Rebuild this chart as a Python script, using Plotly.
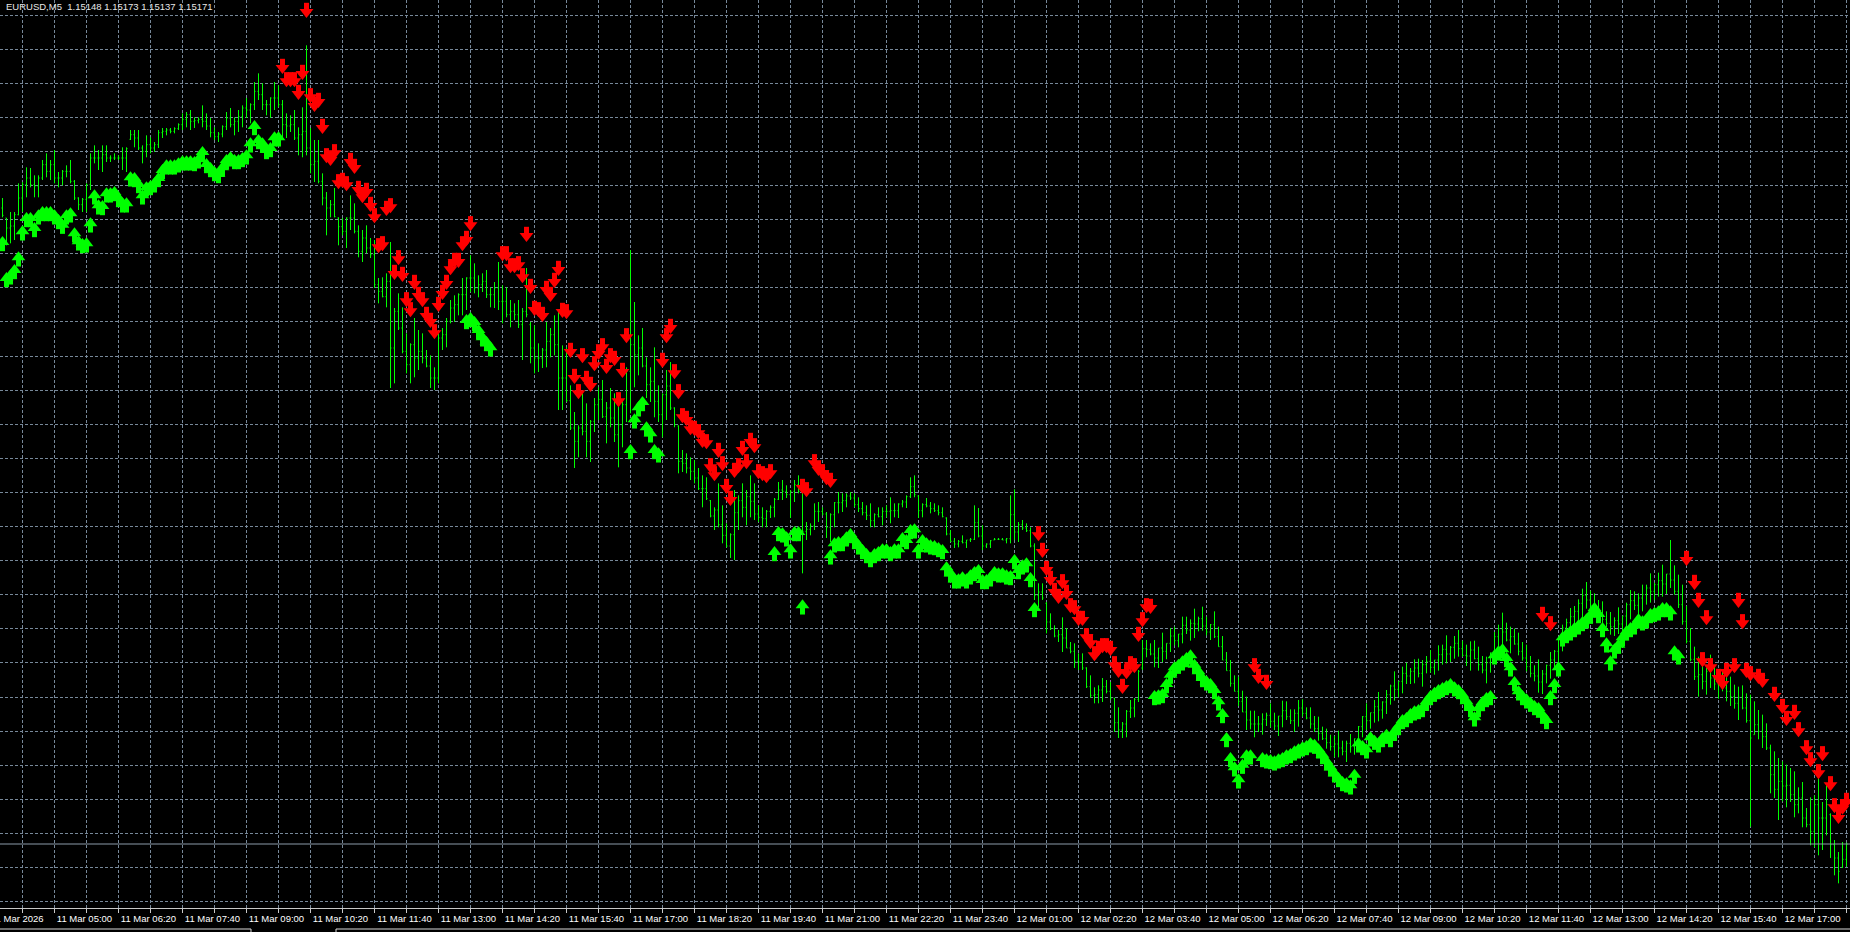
import plotly.graph_objects as go

# ---- price data (points above BASE, 1 point = 0.00001) ----
BASE = 1.15
PT = 0.00001

high_pts = [
1140,1110,1119,1119,1162,1164,1186,1185,1174,1174,1197,1207,1197,1212,1179,1182,1189,1197,1167,1141,
1140,1162,1207,1219,1212,1219,1219,1204,1207,1204,1216,1216,1242,1242,1242,1219,1234,1231,1224,1242,
1245,1245,1245,1246,1252,1267,1269,1272,1261,1261,1279,1267,1260,1246,1239,1249,1269,1275,1261,1272,
1279,1290,1282,1314,1327,1312,1287,1291,1314,1309,1287,1267,1264,1272,1246,1276,1369,1245,1227,1227,
1177,1149,1137,1155,1111,1110,1111,1144,1132,1099,1092,1099,1080,1077,1020,1021,1027,1074,975,997,
976,937,922,960,942,937,912,904,886,937,945,960,987,994,997,1020,1021,1054,1042,1024,
1027,1032,1006,1014,1044,1009,1006,987,982,987,975,1035,954,949,922,915,954,945,964,972,
919,916,859,819,799,847,832,807,840,856,867,834,855,847,829,837,886,1062,984,934,
945,901,886,916,859,847,882,894,826,799,762,757,751,747,735,724,721,687,676,712,
679,652,637,702,694,712,702,724,712,679,676,672,679,690,714,717,709,702,717,724,
709,654,652,682,684,676,669,667,684,699,697,697,699,697,691,684,679,682,667,676,
676,679,691,682,682,687,694,721,724,694,682,690,684,682,679,676,661,642,630,627,
634,627,630,679,675,649,622,627,630,630,630,630,694,703,654,657,652,646,622,562,
562,534,517,499,492,511,495,474,472,457,457,436,424,406,409,420,417,414,390,376,
354,372,387,390,432,477,477,472,477,465,488,472,495,497,486,512,512,508,524,512,
527,512,501,520,497,483,459,447,424,422,401,392,371,371,363,367,368,382,368,363,
386,385,373,373,387,388,376,376,363,362,347,344,335,333,341,326,326,336,329,348,
363,382,368,387,399,385,402,410,430,415,437,443,435,448,449,447,453,462,447,469,
470,484,468,483,492,476,470,475,476,467,453,452,458,489,500,518,503,497,494,488,
474,470,453,439,448,432,440,459,462,478,500,509,525,528,538,554,564,551,547,537,
535,520,519,511,526,513,533,552,550,547,560,560,577,563,578,590,576,627,589,575,
560,528,495,467,452,447,435,455,438,433,432,425,422,410,407,409,397,395,385,372,
365,352,320,310,300,295,290,285,280,256,264,225,241,244,282,234,259,217,177,159,
174,173]

low_pts = [
1111,1069,1072,1077,1114,1119,1141,1156,1141,1141,1167,1171,1167,1162,1156,1159,1171,1162,1137,1122,
1119,1119,1152,1192,1182,1179,1194,1194,1197,1197,1182,1179,1227,1216,1212,1192,1201,1207,1209,1215,
1230,1234,1237,1237,1242,1242,1246,1242,1245,1252,1246,1242,1231,1227,1224,1231,1242,1246,1234,1239,
1246,1260,1252,1272,1287,1272,1264,1260,1272,1276,1231,1230,1239,1227,1204,1201,1204,1177,1164,1162,
1129,1084,1111,1111,1069,1084,1065,1092,1087,1051,1044,1057,1050,1005,982,991,976,855,862,942,
907,877,862,871,882,892,886,855,852,862,912,916,952,954,964,964,972,999,997,991,
999,990,976,975,972,952,961,946,957,945,897,961,892,877,879,885,886,901,904,822,
822,834,792,735,751,784,751,744,789,807,810,772,796,774,736,766,804,817,856,874,
886,840,834,811,804,781,807,822,796,727,729,727,717,712,702,676,687,661,642,646,
622,616,600,597,642,661,649,661,657,654,646,646,660,661,687,687,690,660,684,697,
577,627,634,642,654,664,630,624,646,667,669,676,687,676,669,664,657,646,646,661,
649,661,652,661,660,676,675,690,691,660,661,676,667,669,664,661,634,624,615,616,
622,615,624,627,631,612,615,615,627,627,627,622,622,627,624,642,639,616,537,526,
537,487,492,481,474,459,465,457,435,432,432,405,390,382,382,384,397,387,339,330,
330,331,360,361,384,432,451,454,436,435,444,448,459,469,466,472,486,476,480,490,
491,484,477,480,467,447,431,407,400,378,369,342,343,331,339,335,348,346,342,333,
346,357,351,339,347,362,358,344,339,326,327,314,311,301,301,304,294,308,305,312,
331,342,344,353,355,359,366,380,386,391,397,411,411,412,421,407,427,428,425,431,
440,442,444,449,452,452,438,431,448,431,427,412,428,445,464,470,475,457,470,454,
446,430,421,415,398,396,412,419,432,442,460,481,481,496,502,510,524,523,511,507,
495,496,485,483,486,489,497,508,522,511,520,530,533,537,542,542,546,555,545,525,
500,472,445,417,392,403,395,405,402,389,400,385,378,374,357,373,353,197,335,328,
315,312,247,240,207,235,226,234,211,217,196,196,169,166,154,162,184,150,124,112,
135,137]

open_pts = [
1125,1110,1095,1098,1115,1140,1160,1170,1160,1158,1170,1190,1180,1190,1170,1170,1180,1180,1165,1140,
1130,1138,1160,1200,1200,1200,1205,1200,1200,1200,1200,1200,1228,1235,1230,1215,1210,1220,1215,1220,
1238,1240,1242,1240,1244,1250,1258,1265,1255,1256,1258,1255,1248,1238,1232,1236,1247,1260,1250,1255,
1262,1275,1272,1280,1300,1295,1280,1280,1290,1290,1280,1250,1248,1250,1230,1235,1240,1215,1190,1195,
1165,1140,1125,1130,1110,1097,1090,1110,1110,1090,1060,1080,1065,1055,1010,1000,992,1015,915,970,
945,910,890,920,900,910,900,888,870,870,930,935,955,975,980,995,995,1020,1020,1005,
1010,1015,995,995,1005,985,985,965,970,965,950,970,950,915,900,900,912,925,935,920,
870,870,836,795,775,795,790,775,805,830,838,812,825,810,785,800,830,880,920,905,
915,888,860,865,835,815,845,858,825,798,745,742,735,730,720,704,704,686,663,672,
650,634,618,635,668,686,676,692,685,666,661,659,670,676,688,702,700,695,700,710,
700,640,643,648,670,670,666,646,665,683,683,686,693,690,680,674,668,664,656,665,
662,670,670,671,671,681,684,692,707,693,671,680,678,674,671,668,660,636,625,621,
625,623,627,628,653,633,618,621,627,628,628,627,629,665,639,650,645,641,618,544,
549,532,504,494,483,485,480,465,460,445,444,435,407,394,395,402,407,400,390,353,
342,351,370,375,388,435,464,463,456,450,465,460,472,483,476,486,499,492,502,501,
509,498,489,500,482,467,447,431,412,400,385,369,357,351,351,351,358,364,355,348,
363,371,362,356,367,375,367,360,351,344,337,329,323,317,321,315,310,322,317,329,
347,362,356,368,377,372,384,395,408,403,415,427,423,430,435,427,440,445,436,447,
455,463,456,466,472,464,454,453,462,449,440,432,443,458,482,494,489,477,482,471,
460,450,437,427,423,414,426,439,447,460,478,495,503,512,520,532,544,537,529,522,
515,508,502,497,506,501,513,530,536,529,540,545,555,550,560,566,561,576,567,550,
530,505,475,448,422,425,415,430,420,411,416,405,400,392,382,391,375,356,335,350,
340,332,315,275,253,265,258,259,245,230,240,210,200,190,230,210,210,215,170,150,
136,148]

close_pts = [
1114,1095,1098,1115,1140,1160,1170,1160,1158,1170,1190,1180,1190,1170,1170,1180,1180,1165,1140,1130,
1138,1160,1200,1200,1200,1205,1200,1200,1200,1200,1200,1214,1235,1230,1215,1210,1220,1215,1220,1238,
1240,1242,1240,1244,1250,1258,1265,1255,1256,1258,1255,1248,1238,1232,1236,1247,1260,1250,1255,1262,
1275,1272,1280,1300,1295,1280,1280,1290,1290,1280,1250,1248,1250,1230,1235,1240,1215,1190,1195,1165,
1140,1125,1130,1112,1097,1090,1110,1110,1090,1060,1080,1065,1055,1010,1000,992,1015,915,970,945,
910,890,920,900,910,900,888,870,870,930,935,955,975,980,995,995,1020,1020,1005,1010,
1015,995,995,1005,985,985,965,970,965,950,970,965,915,900,900,912,925,935,920,870,
870,836,795,775,795,790,775,805,830,838,812,825,810,785,800,830,880,920,905,915,
888,860,865,835,815,845,858,825,800,745,742,735,730,720,704,704,689,663,672,650,
634,618,635,668,686,676,692,685,666,661,659,670,676,688,702,700,695,700,710,700,
640,643,648,670,670,666,646,665,683,683,686,693,690,680,674,668,664,656,665,662,
670,670,671,671,681,684,692,707,695,671,680,678,674,671,668,662,636,625,621,625,
623,627,628,653,633,618,621,626,628,628,627,629,665,639,650,645,641,618,544,549,
540,504,494,483,485,480,465,460,445,444,435,407,394,395,402,407,400,390,353,342,
351,370,375,388,430,464,463,456,450,465,460,472,483,476,486,499,492,502,501,509,
498,489,500,482,467,447,431,412,400,385,369,357,351,351,351,358,364,355,348,363,
371,362,356,367,375,367,360,351,344,337,329,323,317,321,315,310,322,317,329,347,
362,356,368,377,372,384,395,408,403,415,427,423,430,435,427,440,445,436,447,455,
463,456,466,472,464,454,453,462,449,440,432,443,458,482,494,489,477,482,471,460,
450,437,427,423,414,426,439,447,460,478,495,503,512,520,532,544,537,529,522,515,
508,502,497,506,501,513,530,536,529,540,545,555,550,560,566,561,576,567,550,530,
505,475,448,422,425,415,430,420,411,416,405,400,392,382,391,375,356,330,350,340,
332,315,275,253,265,258,259,245,230,240,210,200,190,230,210,210,230,170,150,130,
148,171]

# ---- indicator arrows: bar index and price (points) ----
up_idx = [0,1,2,3,4,5,6,7,8,9,10,11,12,13,14,15,16,17,18,19,20,21,22,23,24,25,26,27,28,29,
          30,31,32,33,34,35,36,37,38,39,40,41,42,43,44,45,46,47,48,49,50,51,52,53,54,55,56,57,58,59,
          60,61,62,63,64,65,66,67,68,69,
          116,117,118,119,120,121,122,
          157,158,159,160,161,162,163,164,
          193,194,195,196,197,198,199,200,
          207,208,209,210,211,212,213,214,215,216,217,218,219,220,221,222,223,224,225,226,
          227,228,229,230,231,232,233,234,235,236,237,238,239,240,241,242,243,244,245,246,
          247,248,249,250,251,252,253,254,255,256,257,258,
          288,289,290,291,292,293,294,295,296,297,298,299,300,301,302,303,304,305,306,307,
          308,309,310,311,312,315,316,317,318,319,320,321,322,323,324,325,326,327,328,329,
          330,331,332,333,334,335,336,337,338,339,340,341,342,343,344,345,346,347,348,349,
          350,351,352,353,354,355,356,357,358,359,360,361,362,363,364,365,366,367,368,369,
          370,371,372,373,374,375,376,377,378,379,380,381,382,383,384,385,386,387,388,389,
          390,391,392,393,394,395,396,397,398,399,400,401,402,403,404,405,406,407,408,409,
          410,411,412,413,414,415,416,417,418,419]
up_pts = [1074,1020,1024,1032,1051,1090,1110,1110,1095,1114,1119,1119,1119,1114,1107,1100,1114,1117,1087,1075,
          1071,1072,1102,1144,1129,1128,1147,1147,1149,1140,1132,1132,1171,1170,1161,1144,1156,1158,1162,1170,
          1182,1189,1189,1189,1192,1195,1195,1195,1194,1198,1209,1191,1185,1179,1176,1186,1197,1201,1197,1197,
          1200,1204,1222,1248,1227,1222,1212,1215,1231,1231,
          957,960,954,942,931,924,916,
          762,808,826,834,796,787,762,757,
          609,639,637,631,613,639,639,529,
          604,622,624,624,631,636,627,619,612,606,600,606,609,613,613,609,613,613,630,627,
          642,643,613,627,622,619,618,615,612,586,577,568,568,571,568,574,579,582,567,567,
          571,579,577,577,574,573,597,582,589,592,570,525,
          393,394,396,411,425,436,440,445,450,454,440,430,420,415,411,402,385,366,330,300,
          286,268,290,304,304,300,298,297,295,298,300,304,306,310,313,316,318,322,320,313,
          305,295,286,277,270,264,262,259,275,322,318,313,331,326,322,330,335,330,340,348,
          357,360,366,370,372,375,385,393,398,402,405,408,411,406,402,395,385,375,361,375,
          384,390,393,454,460,463,450,436,414,400,393,388,383,378,375,365,357,393,411,436,
          481,486,490,495,499,504,508,515,525,516,495,472,445,463,470,481,490,495,499,508,
          505,508,516,518,520,525,525,520,460,454]

dn_idx = [70,71,72,73,74,75,76,77,78,79,80,81,82,83,84,85,86,87,88,89,
          90,91,92,93,94,95,96,97,98,99,100,101,102,103,104,105,106,107,108,109,
          110,111,112,113,114,115,116,117,
          125,126,127,128,129,130,131,132,133,134,135,136,137,138,139,140,141,142,143,144,
          145,146,147,148,149,150,151,152,153,154,155,156,
          165,166,167,168,169,170,171,172,173,174,175,176,177,178,179,180,181,182,183,184,
          185,186,187,188,189,190,191,192,
          200,201,203,204,205,206,207,
          259,260,261,262,263,264,265,266,267,268,269,270,271,272,273,274,275,276,277,278,
          279,280,281,282,283,284,285,286,287,
          313,314,316,385,387,
          421,423,424,425,426,427,429,430,431,433,434,435,436,437,439,440,443,445,446,448,
          449,451,452,454,455,457,458,459,460,461]
dn_pts = [1335,1315,1315,1315,1296,1326,1419,1291,1278,1284,1245,1201,1197,1207,1162,1164,1159,1194,1185,1152,
          1141,1149,1128,1111,1066,1069,1122,1126,1026,1048,1023,985,970,1011,993,985,963,954,937,978,
          996,1011,1033,1044,1044,1069,1077,1099,
          1054,1054,1036,1036,1039,1021,1083,1005,972,970,963,1002,993,1014,1032,969,967,909,870,847,
          901,867,858,889,906,916,885,901,897,835,879,931,
          894,931,945,877,847,811,807,793,792,787,774,772,736,724,759,739,705,687,729,736,
          762,742,774,766,727,724,721,727,
          705,700,742,732,727,718,714,
          634,609,582,567,549,540,562,546,526,523,507,507,481,472,454,462,466,466,462,439,
          429,405,427,439,436,483,505,526,525,
          436,420,411,513,499,
          597,561,534,445,508,436,420,411,429,436,534,502,429,424,420,414,393,375,357,366,
          340,313,295,277,304,259,226,210,224,234]

# ---- time axis (5-minute bars, first bar 11 Mar 03:55) ----
grid_idx = [5 + 8 * k for k in range(58)]
label_idx = [13, 29, 45, 61, 77, 93, 109, 125, 141, 157, 173, 189, 205, 221, 237,
             253, 269, 285, 301, 317, 333, 349, 365, 381, 397, 413, 429, 445, 461]
label_text = ["11 Mar 05:00", "11 Mar 06:20", "11 Mar 07:40", "11 Mar 09:00", "11 Mar 10:20",
              "11 Mar 11:40", "11 Mar 13:00", "11 Mar 14:20", "11 Mar 15:40", "11 Mar 17:00",
              "11 Mar 18:20", "11 Mar 19:40", "11 Mar 21:00", "11 Mar 22:20", "11 Mar 23:40",
              "12 Mar 01:00", "12 Mar 02:20", "12 Mar 03:40", "12 Mar 05:00", "12 Mar 06:20",
              "12 Mar 07:40", "12 Mar 09:00", "12 Mar 10:20", "12 Mar 11:40", "12 Mar 13:00",
              "12 Mar 14:20", "12 Mar 15:40", "12 Mar 17:00", "12 Mar 18:20"]
first_label_idx = -3
first_label_text = "11 Mar 2026"
symbol_text = "EURUSD,M5"

n = len(high_pts)
assert len(low_pts) == n and len(open_pts) == n and len(close_pts) == n, (len(low_pts), len(open_pts), len(close_pts), n)
assert len(up_idx) == len(up_pts) and len(dn_idx) == len(dn_pts), (len(up_idx), len(up_pts), len(dn_idx), len(dn_pts))

def to_price(v):
    return [BASE + x * PT for x in v]

bar_idx = list(range(n))
label_map = dict(zip(label_idx, label_text))
tick_text = [label_map.get(g, "") for g in grid_idx]

GRID = "#778899"
LIME = "#00FF00"
RED = "#FF0000"
HEAD = 12        # arrow head marker size (px)
STEM = 6         # arrow stem marker size (px)
X_RANGE = [-0.625, 461.875]

fig = go.Figure()
fig.add_trace(go.Ohlc(
    x=bar_idx, open=to_price(open_pts), high=to_price(high_pts),
    low=to_price(low_pts), close=to_price(close_pts),
    increasing=dict(line=dict(color=LIME, width=1)),
    decreasing=dict(line=dict(color=LIME, width=1)),
    tickwidth=0.25, hoverinfo="skip", showlegend=False))

def add_arrows(idx, pts, color, up):
    y = to_price(pts)
    # stem: a thick vertical line marker pushed away from the head
    fig.add_trace(go.Scatter(
        x=idx, y=y, mode="markers",
        marker=dict(symbol="line-ns", size=STEM, angle=0 if up else 180, standoff=5,
                    line=dict(color=color, width=5), color=color),
        hoverinfo="skip", showlegend=False))
    # head
    fig.add_trace(go.Scatter(
        x=idx, y=y, mode="markers",
        marker=dict(symbol="triangle-up" if up else "triangle-down", size=HEAD,
                    color=color, line=dict(width=0)),
        hoverinfo="skip", showlegend=False))

add_arrows(up_idx, up_pts, LIME, True)
add_arrows(dn_idx, dn_pts, RED, False)

last_o, last_h, last_l, last_c = (BASE + v[-1] * PT for v in (open_pts, high_pts, low_pts, close_pts))
header = f"{symbol_text}\u00a0\u00a0{last_o:.5f} {last_h:.5f} {last_l:.5f} {last_c:.5f}"

W, H = 1850, 932
BOTTOM = 24
first_label_x = (first_label_idx - X_RANGE[0]) / (X_RANGE[1] - X_RANGE[0])
fig.update_layout(
    width=W, height=H,
    margin=dict(l=0, r=0, t=0, b=BOTTOM, pad=0),
    paper_bgcolor="black", plot_bgcolor="black",
    showlegend=False,
    font=dict(family="Liberation Sans", color="white"),
    annotations=[
        dict(text=header, xref="paper", yref="paper", x=0, y=1, xanchor="left", yanchor="top",
             xshift=4, yshift=1, showarrow=False,
             font=dict(family="Liberation Sans", size=9.5, color="#E8E8E8")),
        dict(text=first_label_text, xref="paper", yref="paper", x=first_label_x, y=0,
             xanchor="left", yanchor="top", xshift=-2, yshift=-3, showarrow=False,
             font=dict(family="Liberation Sans", size=9.5, color="white")),
    ],
    shapes=[
        dict(type="line", xref="paper", yref="y", x0=0, x1=1, y0=last_c, y1=last_c,
             line=dict(color="#8C9BAA", width=1)),
        dict(type="line", xref="paper", yref="paper", x0=0, x1=251 / W, y0=-21 / (H - BOTTOM), y1=-21 / (H - BOTTOM),
             line=dict(color="#D8D8D8", width=1)),
        dict(type="line", xref="paper", yref="paper", x0=251 / W, x1=251 / W, y0=-21 / (H - BOTTOM), y1=-24 / (H - BOTTOM),
             line=dict(color="#D8D8D8", width=1)),
        dict(type="line", xref="paper", yref="paper", x0=336 / W, x1=1, y0=-21 / (H - BOTTOM), y1=-21 / (H - BOTTOM),
             line=dict(color="#D8D8D8", width=1)),
        dict(type="line", xref="paper", yref="paper", x0=336 / W, x1=336 / W, y0=-21 / (H - BOTTOM), y1=-24 / (H - BOTTOM),
             line=dict(color="#D8D8D8", width=1)),
    ],
)
fig.update_xaxes(
    range=X_RANGE, tickmode="array", tickvals=grid_idx, ticktext=tick_text,
    showgrid=True, gridcolor=GRID, gridwidth=1, griddash="3px,2px",
    ticks="outside", ticklen=4, tickcolor="#C8C8C8", tickwidth=1,
    tickfont=dict(family="Liberation Sans", size=9.5, color="white"),
    ticklabelshift=30, ticklabelstandoff=-2, tickangle=0,
    showline=True, linecolor="#C8C8C8", linewidth=1, zeroline=False,
    rangeslider=dict(visible=False), fixedrange=True, automargin=False)
fig.update_yaxes(
    range=[BASE + 75 * PT, BASE + 1437 * PT],
    tickmode="linear", tick0=BASE + 1414.5 * PT, dtick=51.15 * PT,
    showticklabels=False, ticks="",
    showgrid=True, gridcolor=GRID, gridwidth=1, griddash="3px,2px",
    zeroline=False, showline=False, fixedrange=True, automargin=False)

fig.write_html("out.html", config={"displayModeBar": False, "staticPlot": True},
               post_script="document.body.style.margin='0';document.body.style.overflow='hidden';document.body.style.background='black';")
